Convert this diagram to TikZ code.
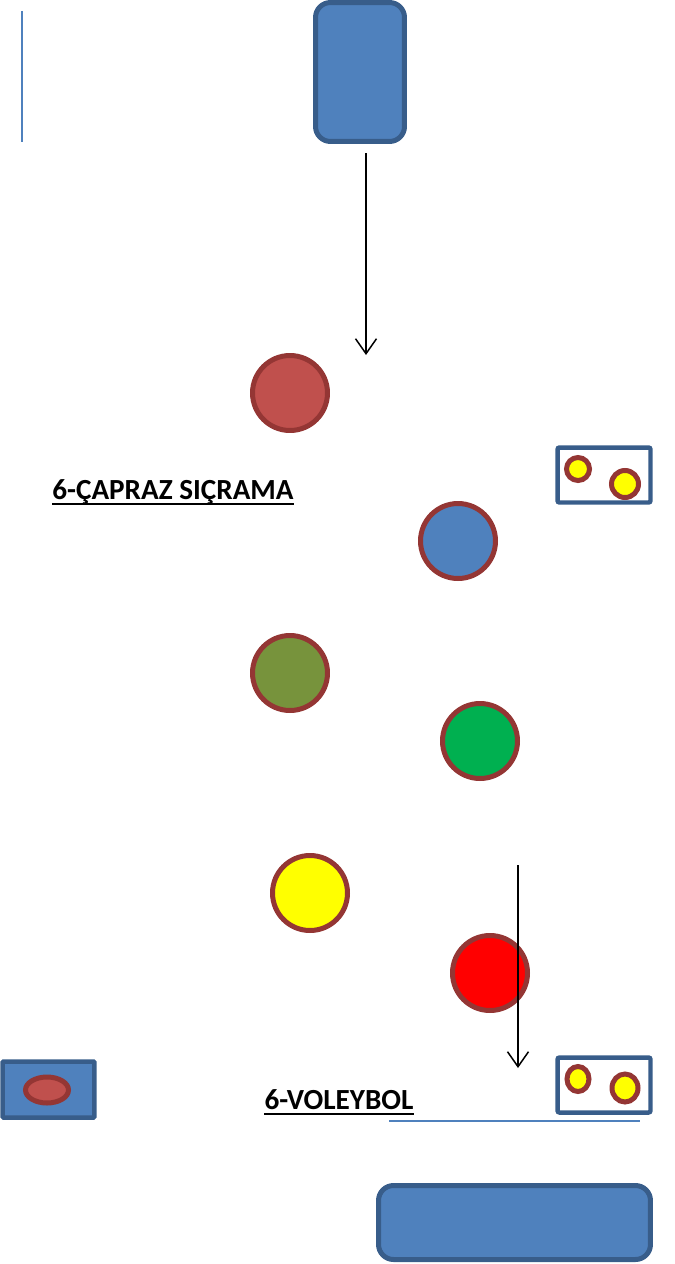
\documentclass[tikz,border=0pt]{standalone}
\usepackage{fontspec}
\setmainfont{Carlito}
\usepackage{tikz}
\usetikzlibrary{arrows.meta,shapes.geometric}
\definecolor{mavi}{HTML}{4F81BD}
\definecolor{koyumavi}{HTML}{385D8A}
\definecolor{bordo}{HTML}{943634}
\definecolor{kiremit}{HTML}{C0504D}
\definecolor{zeytin}{HTML}{77933C}
\definecolor{yesil}{HTML}{00B050}
\definecolor{sari}{HTML}{FFFF00}
\definecolor{kirmizi}{HTML}{FF0000}

\begin{document}
\begin{tikzpicture}[x=0.02cm,y=-0.02cm,
  blok/.style={draw=koyumavi,fill=mavi,line width=0.1cm,rounded corners=0.3cm,inner sep=0},
  kutu/.style={draw=koyumavi,fill=white,line width=0.09cm,rounded corners=0.04cm,inner sep=0,
    minimum width=1.86cm,minimum height=1.1cm},
  daire/.style={circle,draw=bordo,line width=0.1cm,minimum size=1.5cm,inner sep=0},
  minidaire/.style={ellipse,draw=bordo,fill=sari,line width=0.1cm,inner sep=0},
  ok/.style={-{Straight Barb[length=0.3cm,width=0.42cm]},line width=0.03cm},
  baslik/.style={font=\fontsize{16.6}{20}\selectfont\bfseries,inner sep=0,anchor=base}]
\useasboundingbox (0,0) rectangle (675,1264);

% sol ust cizgi
\coordinate (c1) at (22,11);
\coordinate (c2) at (22,142);
\draw[mavi,line width=0.035cm] (c1) -- (c2);

% bloklar
\node[blok,minimum width=1.78cm,minimum height=2.78cm] (ust) at (360,72) {};
\node[blok,minimum width=5.44cm,minimum height=1.48cm] (alt) at (514.5,1222.5) {};

% kutular
\node[kutu] (kutu1) at (604,475) {};
\node[minidaire,minimum width=0.46cm,minimum height=0.46cm] (m1) at (578,469) {};
\node[minidaire,minimum width=0.54cm,minimum height=0.54cm] (m2) at (625,484) {};
\node[kutu] (kutu2) at (604,1085) {};
\node[minidaire,minimum width=0.44cm,minimum height=0.5cm] (m3) at (578,1079) {};
\node[minidaire,minimum width=0.52cm,minimum height=0.56cm] (m4) at (625,1088) {};
\node[kutu,fill=mavi,minimum width=1.84cm,minimum height=1.12cm,rounded corners=0.02cm] (kutu3) at (48.5,1089.5) {};
\node[ellipse,draw=bordo,fill=kiremit,line width=0.1cm,inner sep=0,
  minimum width=0.86cm,minimum height=0.52cm] (m5) at (47,1090) {};

% toplar
\node[daire,fill=kiremit] (d1) at (290,393) {};
\node[daire,fill=mavi] (d2) at (458,541) {};
\node[daire,fill=zeytin] (d3) at (290,673) {};
\node[daire,fill=yesil] (d4) at (480,741) {};
\node[daire,fill=sari] (d5) at (310,893) {};
\node[daire,fill=kirmizi] (d6) at (490,973) {};

% oklar
\coordinate (o1s) at (366,153);
\coordinate (o1e) at (366,355);
\draw[ok] (o1s) -- (o1e);
\coordinate (o2s) at (518,865);
\coordinate (o2e) at (518,1068);
\draw[ok] (o2s) -- (o2e);

% yazilar
\node[baslik] (t1) at (173,499) {6-ÇAPRAZ SIÇRAMA};
\draw[line width=0.045cm] ([yshift=-0.1cm]t1.base west) -- ([yshift=-0.1cm]t1.base east);
\node[baslik] (t2) at (339,1109) {6-VOLEYBOL};
\draw[line width=0.045cm] ([yshift=-0.1cm]t2.base west) -- ([yshift=-0.1cm]t2.base east);

\coordinate (c3) at (389,1121);
\coordinate (c4) at (640,1121);
\draw[mavi,line width=0.035cm] (c3) -- (c4);
\end{tikzpicture}
\end{document}
